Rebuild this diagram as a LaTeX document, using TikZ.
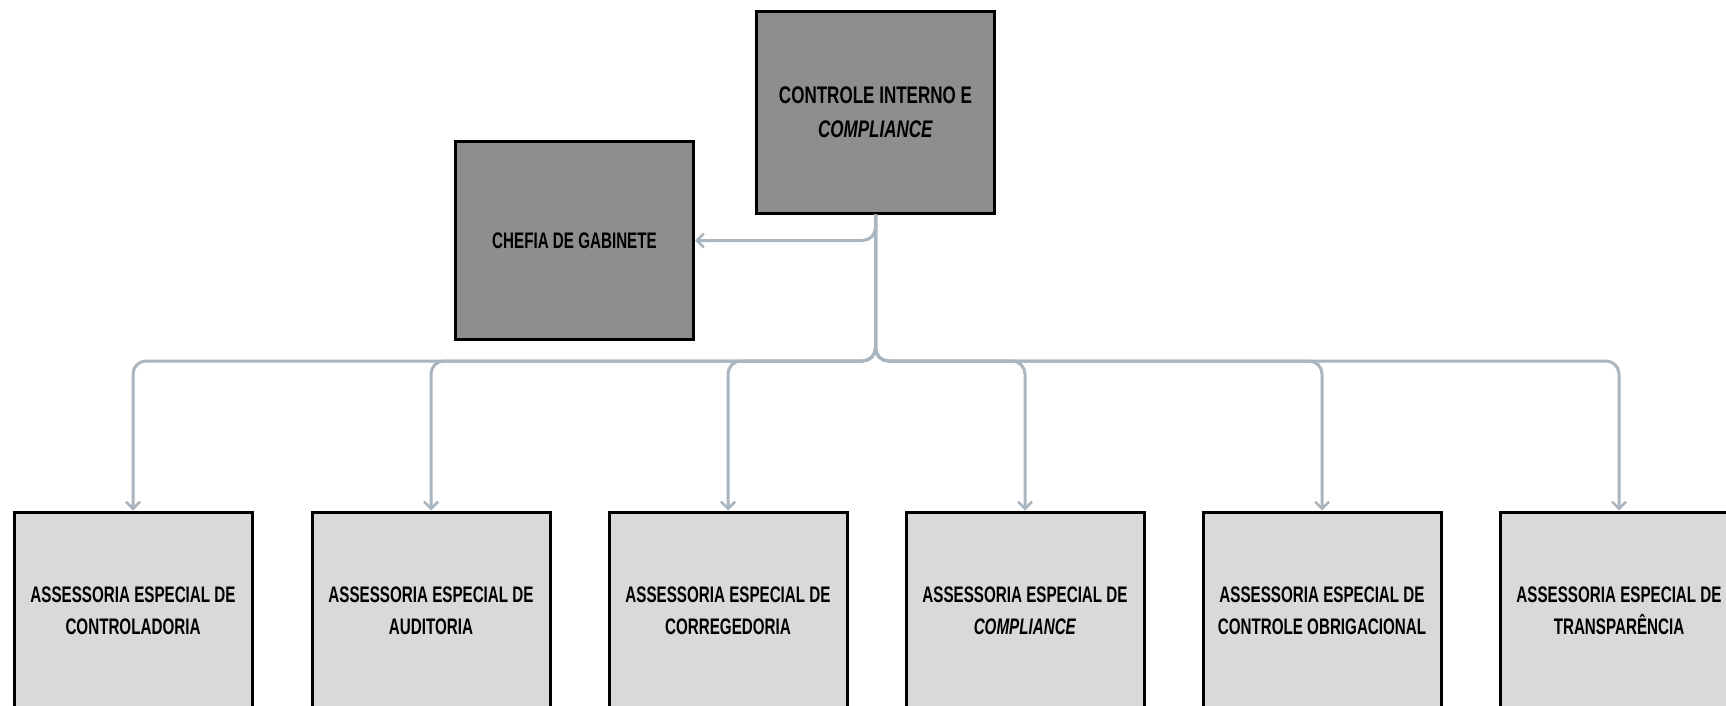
\documentclass[tikz,border=0pt]{standalone}
\usepackage{fontspec}
\usetikzlibrary{arrows.meta}
\newfontfamily\unitfont[FakeStretch=0.675]{Liberation Sans}
\newfontfamily\headfont[FakeStretch=0.71]{Liberation Sans}
\definecolor{headfill}{HTML}{8E8E8E}
\definecolor{unitfill}{HTML}{D9D9D9}
\definecolor{linkgray}{HTML}{A9B5BF}
\tikzset{
  orgbox/.style={draw=black, line width=3pt, minimum width=238pt, minimum height=198pt,
    inner sep=0pt, align=center, text=black, font=\unitfont\bfseries\fontsize{22.5}{32}\selectfont},
  headbox/.style={orgbox, fill=headfill},
  unitbox/.style={orgbox, fill=unitfill},
  link/.style={draw=linkgray, line width=3pt, rounded corners=13pt,
    -{Straight Barb[length=7pt, width=14pt, line width=2.5pt]}},
}
\begin{document}
\begin{tikzpicture}[x=1pt, y=-1pt]
\useasboundingbox (0,0) rectangle (1726,706);
\clip (0,0) rectangle (1726,706);
\fill[white] (0,0) rectangle (1726,706);

% top of the hierarchy
\node[headbox, minimum height=201pt, font=\headfont\bfseries\fontsize{24}{34}\selectfont]
  (cic) at (875.5,112.5) {CONTROLE INTERNO E\\\textit{COMPLIANCE}};
\node[headbox] (gab) at (574.5,240.5) {CHEFIA DE GABINETE};

% special advisory units
\node[unitbox] (u1) at (133,611) {ASSESSORIA ESPECIAL DE\\CONTROLADORIA};
\node[unitbox] (u2) at (431,611) {ASSESSORIA ESPECIAL DE\\AUDITORIA};
\node[unitbox] (u3) at (728,611) {ASSESSORIA ESPECIAL DE\\CORREGEDORIA};
\node[unitbox] (u4) at (1025,611) {ASSESSORIA ESPECIAL DE\\\textit{COMPLIANCE}};
\node[unitbox] (u5) at (1322,611) {ASSESSORIA ESPECIAL DE\\CONTROLE OBRIGACIONAL};
\node[unitbox] (u6) at (1619,611) {ASSESSORIA ESPECIAL DE\\TRANSPARÊNCIA};

% connectors
\coordinate (bus) at (875.5,361);
\draw[link] (cic.south) |- (gab.east);
\foreach \u in {u1,u2,u3,u4,u5,u6}
  \draw[link] (cic.south) -- (bus) -| (\u.north);
\end{tikzpicture}
\end{document}
